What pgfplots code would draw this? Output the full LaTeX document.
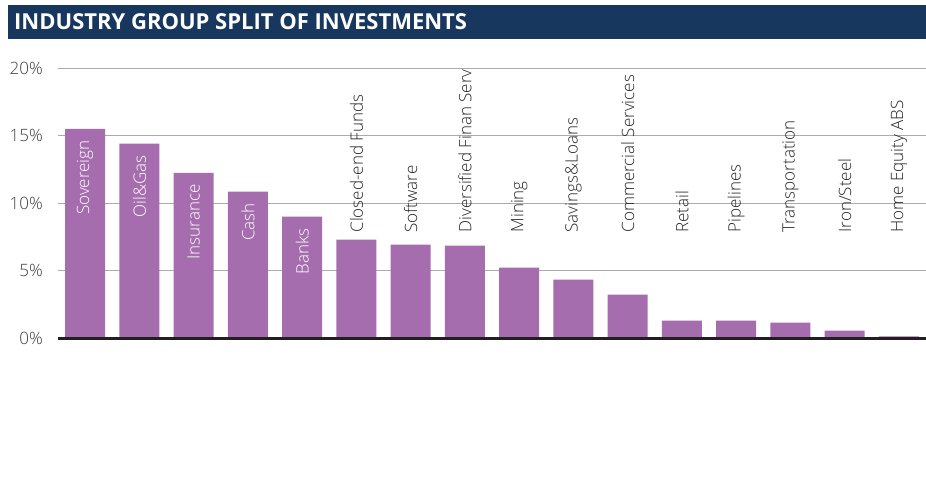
\documentclass[border=0pt]{standalone}
\usepackage{pgfplots}
\pgfplotsset{compat=1.18}
\usepackage{fontspec}
\setmainfont{Open Sans}[UprightFont=* Light, BoldFont=* Bold]
\definecolor{barpurple}{HTML}{A66DAE}
\definecolor{navy}{HTML}{17375E}
\definecolor{gridgray}{HTML}{ABABAB}
\definecolor{ticktext}{HTML}{404040}
\definecolor{axisdark}{HTML}{231F20}
\begin{document}
\begin{tikzpicture}[x=1pt,y=1pt]
\useasboundingbox (0,0) rectangle (926,499);
\fill[navy] (8,460) rectangle (926,494);
\node[anchor=west, text=white, font=\fontsize{22}{24}\selectfont\bfseries, inner sep=0pt] at (14,477) {INDUSTRY GROUP SPLIT OF INVESTMENTS};
\begin{axis}[
  at={(58pt,161pt)}, anchor=south west,
  scale only axis, width=868pt, height=270pt,
  xmin=-0.5, xmax=15.5, ymin=0, ymax=20,
  clip=false,
  axis x line*=bottom,
  axis y line*=left,
  x axis line style={draw=none},
  y axis line style={draw=none},
  xtick=\empty,
  ytick={0,5,10,15,20},
  major tick length=0pt,
  ymajorgrids,
  grid style={draw=gridgray, line width=1pt},
  /pgf/number format/assume math mode=true,
  yticklabel={\pgfmathprintnumber{\tick}\%},
  yticklabel style={text=ticktext, font=\fontsize{17}{20}\selectfont, inner sep=0pt, xshift=-15pt},
]
\addplot[ybar, fill=barpurple, draw=none, bar width=40pt] coordinates {
(0,15.5) (1,14.39) (2,12.24) (3,10.84) (4,8.99) (5,7.28) (6,6.91) (7,6.84)
(8,5.21) (9,4.32) (10,3.21) (11,1.28) (12,1.28) (13,1.14) (14,0.54) (15,0.12)
};
\addplot[draw=none, mark=none, nodes near coords, point meta=explicit symbolic,
  nodes near coords style={rotate=90, anchor=east, text=white, inner sep=0pt, font=\fontsize{17}{20}\selectfont}]
  coordinates {
(0,14.65) [Sovereign]
(1,13.54) [Oil\&Gas]
(2,11.39) [Insurance]
(3,9.99) [Cash]
(4,8.14) [Banks]
};
\addplot[draw=none, mark=none, nodes near coords, point meta=explicit symbolic,
  nodes near coords style={rotate=90, anchor=west, text=black!85, inner sep=0pt, font=\fontsize{17}{20}\selectfont}]
  coordinates {
(5,7.8) [Closed-end Funds]
(6,7.8) [Software]
(7,7.8) [Diversified Finan Serv]
(8,7.8) [Mining]
(9,7.8) [Savings\&Loans]
(10,7.8) [Commercial Services]
(11,7.8) [Retail]
(12,7.8) [Pipelines]
(13,7.8) [Transportation]
(14,7.8) [Iron/Steel]
(15,7.8) [Home Equity ABS]
};
\draw[axisdark, line width=3pt] (rel axis cs:0,0) -- (rel axis cs:1,0);
\end{axis}
\end{tikzpicture}
\end{document}
